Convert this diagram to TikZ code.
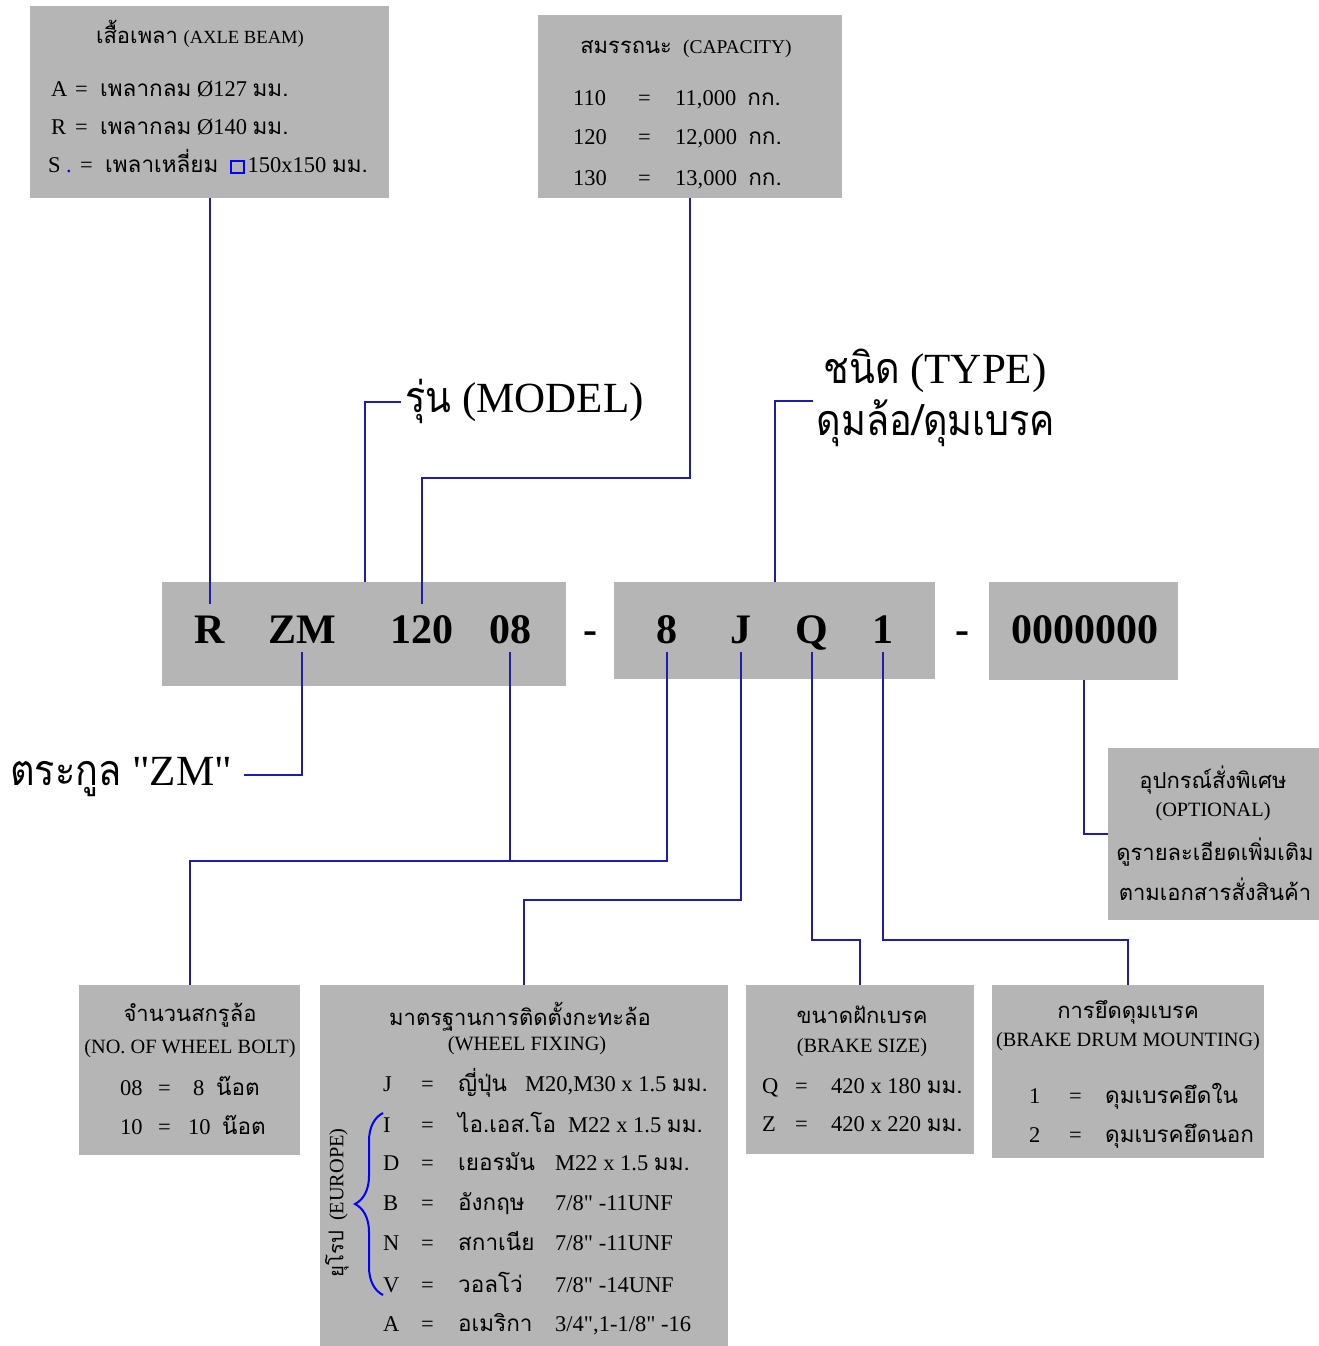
\documentclass[tikz,border=0pt]{standalone}
\usepackage{fontspec}
\setmainfont{Liberation Serif}
\newfontfamily\serif{Liberation Serif}
\newfontfamily\thai[Script=Thai]{Loma}
\newfontfamily\thaibig[Script=Thai, FakeStretch=0.88]{Loma}
\usetikzlibrary{decorations.pathreplacing}

\definecolor{boxgray}{RGB}{181,181,181}
\definecolor{linkblue}{RGB}{30,30,170}
\newcommand{\tha}[1]{{\thai #1}}
\newcommand{\thb}[1]{{\thaibig #1}}
\newcommand{\squaremark}{{\color{blue}\setlength{\fboxrule}{2pt}\setlength{\fboxsep}{0pt}\fbox{\rule{0pt}{10.5pt}\hspace{10.5pt}}}}

\begin{document}
\begin{tikzpicture}[x=1pt, y=-1pt,
	box/.style={fill=boxgray, anchor=north west, inner sep=0pt},
	code/.style={font=\fontsize{42}{42}\selectfont\serif\bfseries, inner sep=0pt, text height=30pt, text depth=0pt, minimum height=48pt},
	link/.style={draw=linkblue, line width=1.6pt},
	row/.style={anchor=base west, inner sep=0pt, font=\fontsize{22.5}{26}\selectfont\serif},
	head/.style={anchor=base, inner sep=0pt, font=\fontsize{22}{26}\selectfont\serif},
	sub/.style={anchor=base, inner sep=0pt, font=\fontsize{20.3}{24}\selectfont\serif},
	big/.style={anchor=base west, inner sep=0pt, font=\fontsize{43}{50}\selectfont\serif},
	bracket/.style={draw=blue, line width=2pt, decorate, decoration={brace, amplitude=28pt}}]

	\useasboundingbox (0,0) rectangle (1319,1346);

	% grey boxes first
	\node[box, minimum width=359pt, minimum height=192pt] (axle) at (30,6) {};
	\node[box, minimum width=304pt, minimum height=183pt] (cap) at (538,15) {};
	\node[box, minimum width=404pt, minimum height=104pt] (codeA) at (162,582) {};
	\node[box, minimum width=321pt, minimum height=97pt] (codeB) at (614,582) {};
	\node[box, minimum width=189pt, minimum height=98pt] (codeC) at (989,582) {};
	\node[box, minimum width=211pt, minimum height=172pt] (opt) at (1108,748) {};
	\node[box, minimum width=221pt, minimum height=170pt] (bolt) at (79,985) {};
	\node[box, minimum width=408pt, minimum height=361pt] (fix) at (320,985) {};
	\node[box, minimum width=228pt, minimum height=169pt] (brake) at (746,985) {};
	\node[box, minimum width=272pt, minimum height=173pt] (mount) at (992,985) {};

	% the code itself
	\node[code] (cR) at (210,628) {R};
	\node[code] (cZM) at (302,628) {ZM};
	\node[code] (c120) at (422,628) {120};
	\node[code] (c08) at (510,628) {08};
	\node[code] (sepA) at (590,628) {-};
	\node[code] (c8) at (667,628) {8};
	\node[code] (cJ) at (741,628) {J};
	\node[code] (cQ) at (812,628) {Q};
	\node[code] (c1) at (883,628) {1};
	\node[code] (sepB) at (962,628) {-};
	\node[code] (cNum) at (1085,628) {0000000};

	% labels floating round the code
	\node[big] (modelLbl) at (405,412) {\thb{รุ่น} (MODEL)};
	\node[big, anchor=base] (typeLbl) at (935,383) {\thb{ชนิด} (TYPE)};
	\node[big, anchor=base] (hubLbl) at (936,435) {\thb{ดุมล้อ/ดุมเบรค}};
	\node[big, anchor=base west] (famLbl) at (10,785) {\thb{ตระกูล} "ZM"};

	% save coordinates for the free ends and the bends
	\coordinate (modelFoot) at (365,582);	\coordinate (modelTip) at (401,402);
	\coordinate (typeFoot) at (775,582);	\coordinate (typeTip) at (813,401);
	\coordinate (famTip) at (244,775);
	\coordinate (capBend) at (0,478);
	\coordinate (boltBus) at (0,861);
	\coordinate (fixBus) at (0,900);
	\coordinate (drumBus) at (0,940);

	% connectors above the code
	\draw[link] (cR.north) -- (cR.north |- axle.south);
	\draw[link] (cap.south) |- (capBend -| c120.north) -- (c120.north);
	\draw[link] (modelFoot) |- (modelTip);
	\draw[link] (typeFoot) |- (typeTip);

	% connectors below the code
	\draw[link] (cZM.south) |- (famTip);
	\draw[link] (c8.south) |- (boltBus -| bolt.north) -- (bolt.north);
	\draw[link] (c08.south) -- (c08.south |- boltBus);
	\draw[link] (cJ.south) |- (fixBus -| fix.north) -- (fix.north);
	\draw[link] (cQ.south) |- (drumBus -| brake.north) -- (brake.north);
	\draw[link] (c1.south) |- (drumBus -| mount.north) -- (mount.north);
	\draw[link] (codeC.south) |- (opt.west);

	% axle beam
	\node[head] (axleHead) at (200,44) {\tha{เสื้อเพลา} {\fontsize{18.6}{23}\selectfont (AXLE BEAM)}};
	\node[row] (axleA) at (51,96) {\makebox[24pt][l]{A}\makebox[25pt][l]{=}\tha{เพลากลม} Ø127 \tha{มม.}};
	\node[row] (axleR) at (51,134) {\makebox[24pt][l]{R}\makebox[25pt][l]{=}\tha{เพลากลม} Ø140 \tha{มม.}};
	\node[row] (axleS) at (48,172) {\makebox[18pt][l]{S}\makebox[14pt][l]{\color{blue}.}\makebox[25pt][l]{=}\makebox[125pt][l]{\tha{เพลาเหลี่ยม}}\squaremark\hspace{3pt}150x150 \tha{มม.}};

	% capacity
	\node[head] (capHead) at (686,54) {\tha{สมรรถนะ} \ {\fontsize{19.5}{23}\selectfont (CAPACITY)}};
	\node[row] (cap110) at (573,105) {\makebox[65pt][l]{110}\makebox[37pt][l]{=}11,000 \ \tha{กก.}};
	\node[row] (cap120) at (573,144) {\makebox[65pt][l]{120}\makebox[37pt][l]{=}12,000 \ \tha{กก.}};
	\node[row] (cap130) at (573,185) {\makebox[65pt][l]{130}\makebox[37pt][l]{=}13,000 \ \tha{กก.}};

	% optional items
	\node[head] (optHead) at (1213,788) {\tha{อุปกรณ์สั่งพิเศษ}};
	\node[sub] (optSub) at (1213,816) {(OPTIONAL)};
	\node[head] (optNote) at (1215,860) {\tha{ดูรายละเอียดเพิ่มเติม}};
	\node[head] (optDoc) at (1215,900) {\tha{ตามเอกสารสั่งสินค้า}};

	% wheel bolts
	\node[head] (boltHead) at (190,1021) {\tha{จำนวนสกรูล้อ}};
	\node[sub] (boltSub) at (190,1053) {(NO. OF WHEEL BOLT)};
	\node[row] (bolt08) at (120,1095) {\makebox[38pt][l]{08}\makebox[35pt][l]{=}\makebox[23pt][l]{8}\tha{น๊อต}};
	\node[row] (bolt10) at (120,1134) {\makebox[38pt][l]{10}\makebox[30pt][l]{=}\makebox[34pt][l]{10}\tha{น๊อต}};

	% wheel fixing
	\node[head] (fixHead) at (520,1025) {\tha{มาตรฐานการติดตั้งกะทะล้อ}};
	\node[sub] (fixSub) at (527,1050) {(WHEEL FIXING)};
	\node[row] (fixJ) at (383,1091) {\makebox[38pt][l]{J}\makebox[37pt][l]{=}\makebox[67pt][l]{\tha{ญี่ปุ่น}}M20,M30 x 1.5 \tha{มม.}};
	\node[row] (fixI) at (383,1132) {\makebox[38pt][l]{I}\makebox[37pt][l]{=}\makebox[110pt][l]{\tha{ไอ.เอส.โอ}}M22 x 1.5 \tha{มม.}};
	\node[row] (fixD) at (383,1170) {\makebox[38pt][l]{D}\makebox[37pt][l]{=}\makebox[97pt][l]{\tha{เยอรมัน}}M22 x 1.5 \tha{มม.}};
	\node[row] (fixB) at (383,1210) {\makebox[38pt][l]{B}\makebox[37pt][l]{=}\makebox[97pt][l]{\tha{อังกฤษ}}7/8" -11UNF};
	\node[row] (fixN) at (383,1250) {\makebox[38pt][l]{N}\makebox[37pt][l]{=}\makebox[97pt][l]{\tha{สกาเนีย}}7/8" -11UNF};
	\node[row] (fixV) at (383,1292) {\makebox[38pt][l]{V}\makebox[37pt][l]{=}\makebox[97pt][l]{\tha{วอลโว่}}7/8" -14UNF};
	\node[row] (fixA) at (383,1331) {\makebox[38pt][l]{A}\makebox[37pt][l]{=}\makebox[97pt][l]{\tha{อเมริกา}}3/4",1-1/8" -16};

	% europe group
	\coordinate (braceLow) at (383,1295);	\coordinate (braceHigh) at (383,1113);
	\draw[bracket] (braceLow) -- (braceHigh);
	\node[sub, anchor=center, rotate=90] (europe) at (337,1203) {\tha{ยุโรป} \ (EUROPE)};

	% brake size
	\node[head] (brakeHead) at (862,1023) {\tha{ขนาดฝักเบรค}};
	\node[sub] (brakeSub) at (862,1052) {(BRAKE SIZE)};
	\node[row] (brakeQ) at (762,1093) {\makebox[33pt][l]{Q}\makebox[36pt][l]{=}420 x 180 \tha{มม.}};
	\node[row] (brakeZ) at (762,1131) {\makebox[33pt][l]{Z}\makebox[36pt][l]{=}420 x 220 \tha{มม.}};

	% brake drum mounting
	\node[head] (mountHead) at (1128,1018) {\tha{การยึดดุมเบรค}};
	\node[sub] (mountSub) at (1128,1046) {(BRAKE DRUM MOUNTING)};
	\node[row] (mount1) at (1029,1103) {\makebox[40pt][l]{1}\makebox[36pt][l]{=}\tha{ดุมเบรคยึดใน}};
	\node[row] (mount2) at (1029,1142) {\makebox[40pt][l]{2}\makebox[36pt][l]{=}\tha{ดุมเบรคยึดนอก}};

\end{tikzpicture}
\end{document}
